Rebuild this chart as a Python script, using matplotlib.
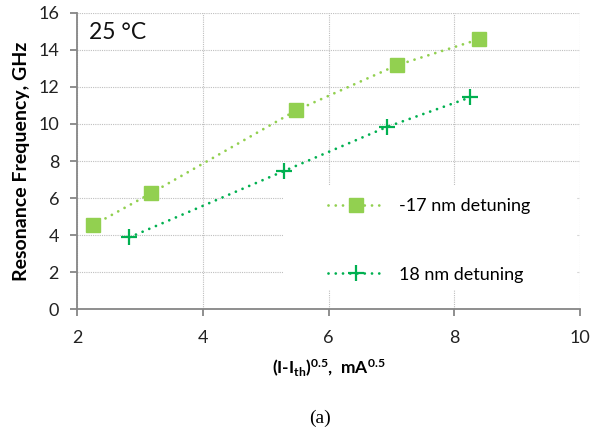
import matplotlib
matplotlib.use("Agg")
import matplotlib.pyplot as plt
from matplotlib.patches import Rectangle

# data
x_m17 = [2.25, 3.17, 5.49, 7.09, 8.39]
y_m17 = [4.53, 6.25, 10.74, 13.17, 14.56]
x_p18 = [2.83, 5.29, 6.93, 8.25]
y_p18 = [3.88, 7.46, 9.84, 11.43]
labels = ["-17 nm detuning", "18 nm detuning"]
xticks = [2, 4, 6, 8, 10]
yticks = [0, 2, 4, 6, 8, 10, 12, 14, 16]

plt.rcParams['font.family'] = ['Lato', 'DejaVu Sans']
plt.rcParams['mathtext.fontset'] = 'custom'
plt.rcParams['mathtext.rm'] = 'Lato'
plt.rcParams['mathtext.bf'] = 'Lato:bold'
plt.rcParams['mathtext.it'] = 'Lato:italic'

fig = plt.figure(figsize=(5.93, 4.37), dpi=100)
ax = fig.add_axes([0.130, 0.292, 0.848, 0.679])

dots = (0, (0.01, 2.6))
ax.plot(x_m17, y_m17, color='#92D050', linestyle=dots, lw=2.0,
        dash_capstyle='round', marker='s', markersize=10, label=labels[0], zorder=4)
ax.plot(x_p18, y_p18, color='#00B050', linestyle=dots, lw=2.0,
        dash_capstyle='round', marker='+', markersize=11, mew=1.6, label=labels[1], zorder=4)

ax.set_xlim(2, 10)
ax.set_ylim(0, 16)
ax.set_xticks(xticks)
ax.set_yticks(yticks)
ax.grid(True, color='#BFBFBF', linestyle=(0, (1, 1)), lw=0.8)
ax.set_axisbelow(True)

for s in ['top', 'right']:
    ax.spines[s].set_visible(False)
for s in ['left', 'bottom']:
    ax.spines[s].set_color('#868686')
    ax.spines[s].set_linewidth(1.3)
ax.tick_params(direction='out', length=5, width=1.3, color='#868686',
               labelsize=13, labelcolor='#222222')
ax.tick_params(axis='x', pad=10)
ax.tick_params(axis='y', pad=8)

ax.set_ylabel('Resonance Frequency, GHz', fontsize=14, fontweight='bold', labelpad=6)
ax.set_xlabel(r'$\mathbf{(I}$-$\mathbf{I_{th})^{0.5}}$,  $\mathbf{mA^{0.5}}$',
              fontsize=12.5, fontweight='bold', labelpad=8)

ax.text(0.023, 0.934, '25 °C', transform=ax.transAxes, fontsize=16.5,
        color='#111111', va='center', ha='left')

# white legend area (covers gridlines like the Excel legend box)
ax.add_patch(Rectangle((0.409, 0.065), 0.585, 0.354, transform=ax.transAxes,
                       facecolor='white', edgecolor='none', zorder=1.5))

leg = ax.legend(loc='center', bbox_to_anchor=(0.70, 0.232), numpoints=1,
                fontsize=13, labelspacing=2.9, handlelength=3.1, handletextpad=0.8,
                borderpad=1.6, frameon=False)
leg.set_zorder(3)

fig.text(320 / 593, 1 - 418 / 437, '(a)', fontsize=14,
         family='Liberation Serif', ha='center', va='center')

fig.savefig('out.png', dpi=100)
